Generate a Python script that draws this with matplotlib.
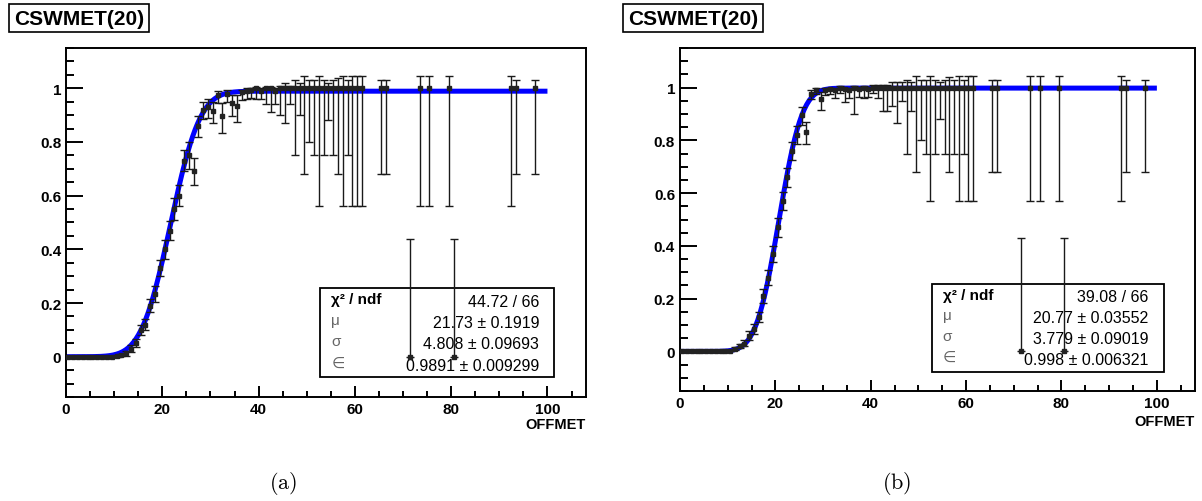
import math
import numpy as np
import matplotlib
matplotlib.use('Agg')
from matplotlib import pyplot as plt
from matplotlib.patches import Rectangle

plt.rcParams['mathtext.fontset'] = 'cm'

# bin centres (OFFMET), shared by both panels
x_pts = [0.5, 1.5, 2.5, 3.5, 4.5, 5.5, 6.5, 7.5, 8.5, 9.5,
         10.5, 11.5, 12.5, 13.5, 14.5, 15.5, 16.5, 17.5, 18.5, 19.5,
         20.5, 21.5, 22.5, 23.5, 24.5, 25.5, 26.5, 27.5, 28.5, 29.5,
         30.5, 31.5, 32.5, 33.5, 34.5, 35.5, 36.5, 37.5, 38.5, 39.5,
         40.5, 41.5, 42.5, 43.5, 44.5, 45.5, 46.5, 47.5, 48.5, 49.5,
         50.5, 51.5, 52.5, 53.5, 54.5, 55.5, 56.5, 57.5, 58.5, 59.5,
         60.5, 61.5,
         65.5, 66.5, 71.5, 73.5, 75.5, 79.5, 80.5, 92.5, 93.5, 97.5]

# panel (a)
eff_a = [0, 0, 0, 0, 0, 0, 0, 0, 0, 0,
         0.002, 0.005, 0.012, 0.03, 0.05, 0.10, 0.12, 0.19, 0.235, 0.33,
         0.40, 0.47, 0.55, 0.60, 0.73, 0.75, 0.69, 0.86, 0.92, 0.93,
         0.915, 0.975, 0.895, 0.98, 0.945, 0.935, 0.985, 0.99, 0.995, 1.0,
         0.99, 1.0, 1.0, 0.99, 1.0, 1.0, 1.0, 1.0, 1.0, 1.0,
         1.0, 1.0, 1.0, 1.0, 1.0, 1.0, 1.0, 1.0, 1.0, 1.0,
         1.0, 1.0,
         1.0, 1.0, 0.0, 1.0, 1.0, 1.0, 0.0, 1.0, 1.0, 1.0]
lo_a = [0, 0, 0, 0, 0, 0, 0, 0, 0, 0,
        0.002, 0.004, 0.008, 0.012, 0.015, 0.02, 0.02, 0.025, 0.03, 0.03,
        0.035, 0.035, 0.04, 0.04, 0.04, 0.05, 0.05, 0.04, 0.035, 0.04,
        0.045, 0.03, 0.06, 0.03, 0.05, 0.06, 0.03, 0.03, 0.03, 0.04,
        0.03, 0.06, 0.09, 0.05, 0.10, 0.13, 0.06, 0.25, 0.10, 0.32,
        0.20, 0.25, 0.44, 0.25, 0.12, 0.25, 0.32, 0.44, 0.25, 0.44,
        0.44, 0.44,
        0.32, 0.32, 0.0, 0.44, 0.44, 0.44, 0.0, 0.44, 0.32, 0.32]
hi_a = [0.004, 0.004, 0.004, 0.004, 0.004, 0.004, 0.004, 0.004, 0.004, 0.004,
        0.004, 0.006, 0.01, 0.013, 0.016, 0.02, 0.02, 0.025, 0.03, 0.03,
        0.035, 0.035, 0.04, 0.04, 0.04, 0.05, 0.05, 0.035, 0.03, 0.03,
        0.035, 0.015, 0.05, 0.015, 0.03, 0.04, 0.01, 0.01, 0.005, 0.005,
        0.01, 0.005, 0.005, 0.01, 0.01, 0.02, 0.01, 0.03, 0.02, 0.045,
        0.03, 0.03, 0.045, 0.03, 0.02, 0.03, 0.04, 0.045, 0.03, 0.045,
        0.045, 0.045,
        0.03, 0.03, 0.44, 0.045, 0.045, 0.045, 0.44, 0.045, 0.03, 0.03]
fit_a = [21.73, 4.808, 0.9891]
stats_a = ['44.72 / 66', '21.73 \u00b1 0.1919', '4.808 \u00b1 0.09693', '0.9891 \u00b1 0.009299']

# panel (b)
eff_b = [0, 0, 0, 0, 0, 0, 0, 0, 0, 0,
         0.003, 0.01, 0.02, 0.03, 0.06, 0.085, 0.13, 0.21, 0.28, 0.37,
         0.47, 0.57, 0.66, 0.76, 0.82, 0.895, 0.83, 0.975, 0.99, 0.955,
         0.99, 0.995, 0.99, 1.0, 0.995, 0.99, 1.0, 0.995, 1.0, 0.995,
         1.0, 1.0, 1.0, 1.0, 1.0, 1.0, 1.0, 1.0, 1.0, 1.0,
         1.0, 1.0, 1.0, 1.0, 1.0, 1.0, 1.0, 1.0, 1.0, 1.0,
         1.0, 1.0,
         1.0, 1.0, 0.0, 1.0, 1.0, 1.0, 0.0, 1.0, 1.0, 1.0]
lo_b = [0, 0, 0, 0, 0, 0, 0, 0, 0, 0,
        0.002, 0.005, 0.008, 0.01, 0.015, 0.02, 0.02, 0.025, 0.03, 0.03,
        0.035, 0.035, 0.035, 0.035, 0.035, 0.035, 0.045, 0.02, 0.015, 0.04,
        0.02, 0.02, 0.03, 0.02, 0.05, 0.03, 0.10, 0.03, 0.04, 0.03,
        0.02, 0.04, 0.09, 0.09, 0.07, 0.135, 0.05, 0.25, 0.09, 0.32,
        0.20, 0.25, 0.43, 0.25, 0.12, 0.25, 0.32, 0.25, 0.43, 0.25,
        0.43, 0.43,
        0.32, 0.32, 0.0, 0.43, 0.43, 0.43, 0.0, 0.43, 0.32, 0.32]
hi_b = [0.004, 0.004, 0.004, 0.004, 0.004, 0.004, 0.004, 0.004, 0.004, 0.004,
        0.004, 0.006, 0.01, 0.012, 0.016, 0.02, 0.02, 0.025, 0.03, 0.03,
        0.035, 0.035, 0.035, 0.035, 0.035, 0.03, 0.04, 0.015, 0.01, 0.03,
        0.01, 0.005, 0.01, 0.005, 0.005, 0.01, 0.005, 0.005, 0.005, 0.005,
        0.01, 0.01, 0.01, 0.01, 0.02, 0.02, 0.02, 0.03, 0.02, 0.045,
        0.03, 0.03, 0.045, 0.03, 0.02, 0.03, 0.04, 0.03, 0.045, 0.03,
        0.045, 0.045,
        0.03, 0.03, 0.43, 0.045, 0.045, 0.045, 0.43, 0.045, 0.03, 0.03]
fit_b = [20.77, 3.779, 0.998]
stats_b = ['39.08 / 66', '20.77 \u00b1 0.03552', '3.779 \u00b1 0.09019', '0.998 \u00b1 0.006321']

stat_names = ['\u03c7\u00b2 / ndf', '\u03bc', '\u03c3', '\u2208']
title = 'CSWMET(20)'
xlabel = 'OFFMET'
captions = ['(a)', '(b)']

SANS = ['Liberation Sans', 'DejaVu Sans']


def erf_curve(x, mu, sigma, eps):
    # turn-on fit: eps/2 * (1 + erf((x-mu)/(sqrt2*sigma)))
    return np.array([0.5 * eps * (1 + math.erf((v - mu) / (math.sqrt(2) * sigma))) for v in x])


def draw_panel(ax, eff, lo, hi, fit, stats):
    ax.set_xlim(0, 108)
    ax.set_ylim(-0.15, 1.15)

    xf = np.linspace(0, 100, 400)
    ax.plot(xf, erf_curve(xf, *fit), color='#0000ff', lw=3.6, zorder=2, solid_capstyle='butt')

    ax.errorbar(x_pts, eff, yerr=[lo, hi], fmt='s', ms=3.4, color='#222222',
                mec='#222222', ecolor='#1a1a1a', elinewidth=1.0, capsize=3, capthick=1.0, zorder=3)

    # stats box (drawn below the points, like ROOT does here)
    ax.add_patch(Rectangle((0.489, 0.056), 0.45, 0.256, transform=ax.transAxes,
                           facecolor='white', edgecolor='black', lw=1.3, zorder=1))
    ys = [0.275, 0.213, 0.152, 0.091]
    for i, (name, val, y) in enumerate(zip(stat_names, stats, ys)):
        if i == 0:
            ax.text(0.51, y + 0.006, name, transform=ax.transAxes, fontsize=11, family=SANS,
                    fontweight='bold', va='center', ha='left', zorder=1.5)
        else:
            ax.text(0.51, y + 0.008, name, transform=ax.transAxes, fontsize=11, family=SANS,
                    color='#666666', va='center', ha='left', zorder=1.5)
        ax.text(0.91, y, val, transform=ax.transAxes, fontsize=11.5, family=SANS,
                va='center', ha='right', zorder=1.5)

    ax.set_xticks([0, 20, 40, 60, 80, 100])
    ax.set_xticks(np.arange(0, 108, 5), minor=True)
    ax.set_yticks([0, 0.2, 0.4, 0.6, 0.8, 1])
    ax.set_yticklabels(['0', '0.2', '0.4', '0.6', '0.8', '1'])
    ax.set_yticks(np.arange(-0.15, 1.16, 0.05), minor=True)
    ax.tick_params(which='both', direction='in', top=False, right=False, width=1.4)
    ax.tick_params(axis='y', which='major', length=12)
    ax.tick_params(axis='y', which='minor', length=6)
    ax.tick_params(axis='x', which='major', length=8)
    ax.tick_params(axis='x', which='minor', length=4)
    for lab in ax.get_xticklabels() + ax.get_yticklabels():
        lab.set_family(SANS)
        lab.set_fontweight('bold')
        lab.set_fontsize(11)
    for sp in ax.spines.values():
        sp.set_linewidth(1.4)


fig = plt.figure(figsize=(12.02, 5.02), dpi=100)
ax1 = fig.add_axes([0.0549, 0.2072, 0.4326, 0.6952])
ax2 = fig.add_axes([0.5657, 0.2191, 0.4285, 0.6833])

draw_panel(ax1, eff_a, lo_a, hi_a, fit_a, stats_a)
draw_panel(ax2, eff_b, lo_b, hi_b, fit_b, stats_b)

# ROOT style histogram titles in a box
for xt in [0.0115, 0.5225]:
    fig.text(xt, 0.962, title, fontsize=15, fontweight='bold', family=SANS, va='center', ha='left',
             bbox=dict(boxstyle='square,pad=0.22', facecolor='white', edgecolor='black', lw=1.2))

fig.text(586 / 1202, 1 - 425 / 502, xlabel, fontsize=10.5, fontweight='bold', family=SANS, ha='right', va='center')
fig.text(1195 / 1202, 1 - 422 / 502, xlabel, fontsize=10.5, fontweight='bold', family=SANS, ha='right', va='center')

fig.text(283 / 1202, 1 - 484 / 502, r'$\mathrm{' + captions[0] + '}$', fontsize=16, ha='center', va='center')
fig.text(897 / 1202, 1 - 484 / 502, r'$\mathrm{' + captions[1] + '}$', fontsize=16, ha='center', va='center')

fig.savefig('out.png', dpi=100)
